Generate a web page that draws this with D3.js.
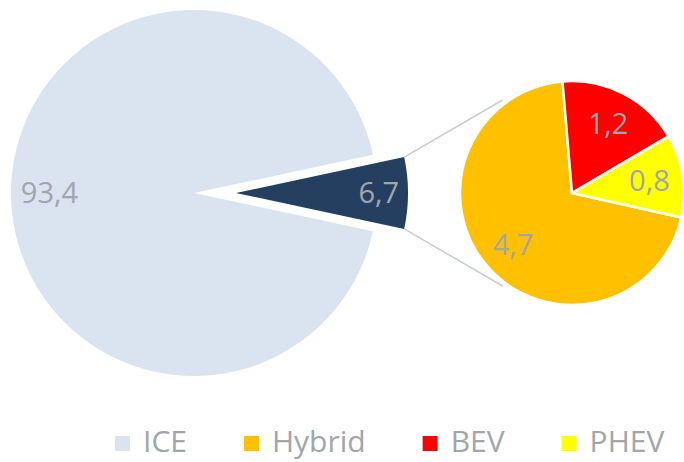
<!DOCTYPE html>
<html lang="en">

<head>
    <meta charset="UTF-8">
    <script src="https://d3js.org/d3.v7.min.js"></script>
    <title>pie of pie</title>
    <style>
        body { margin: 0; background: #fff; }
        text { font-family: "Open Sans", sans-serif; }
    </style>
</head>

<body>
    <div id="chart"></div>
    <script>
        // Data
        const mainLabels = ["ICE", "Other"];
        const mainValues = [93.4, 6.7];
        const subLabels = ["Hybrid", "BEV", "PHEV"];
        const subValues = [4.7, 1.2, 0.8];
        const legendLabels = ["ICE", "Hybrid", "BEV", "PHEV"];

        const colors = {
            ICE: "#dae3f0",
            Other: "#243f60",
            Hybrid: "#ffc000",
            BEV: "#ff0000",
            PHEV: "#ffff00"
        };

        const formatValue = v => d3.format(".1f")(v).replace(".", ",");

        // Dimensions
        const width = 684;
        const height = 462;
        const textColor = "#a0a6ac";

        const svg = d3.select("#chart")
            .append("svg")
            .attr("width", width)
            .attr("height", height);

        // Main pie
        const mainCx = 194, mainCy = 193, mainR = 183;
        const explode = 42, explodedR = 172;
        const mainTotal = d3.sum(mainValues);
        const otherHalf = Math.PI * mainValues[1] / mainTotal;

        const mainPie = d3.pie()
            .sort(null)
            .startAngle(Math.PI / 2 + otherHalf)
            .endAngle(Math.PI / 2 + otherHalf + 2 * Math.PI);

        const mainData = mainPie(mainValues).map((d, i) => ({ ...d, label: mainLabels[i] }));

        const mainG = svg.append("g")
            .attr("transform", `translate(${mainCx},${mainCy})`);

        const arcMain = d3.arc().innerRadius(0).outerRadius(mainR);
        const arcExploded = d3.arc().innerRadius(0).outerRadius(explodedR);

        const midAngle = d => (d.startAngle + d.endAngle) / 2;
        const offsetOf = d => d.label === "Other"
            ? [explode * Math.sin(midAngle(d)), -explode * Math.cos(midAngle(d))]
            : [0, 0];

        mainG.selectAll("path")
            .data(mainData)
            .join("path")
            .attr("transform", d => `translate(${offsetOf(d)})`)
            .attr("fill", d => colors[d.label])
            .attr("d", d => d.label === "Other" ? arcExploded(d) : arcMain(d));

        mainG.selectAll("text")
            .data(mainData)
            .join("text")
            .attr("x", d => {
                const [ox] = offsetOf(d);
                const r = d.label === "Other" ? explodedR * 0.83 : mainR * 0.79;
                return ox + r * Math.sin(midAngle(d));
            })
            .attr("y", d => {
                const [, oy] = offsetOf(d);
                const r = d.label === "Other" ? explodedR * 0.83 : mainR * 0.79;
                return oy - r * Math.cos(midAngle(d));
            })
            .attr("dy", "0.35em")
            .attr("text-anchor", "middle")
            .attr("font-size", 29)
            .attr("fill", textColor)
            .text(d => formatValue(d.value));

        // Secondary pie
        const subCx = 572, subCy = 193, subR = 112;
        const subStart = 102.6 * Math.PI / 180;

        const subPie = d3.pie()
            .sort(null)
            .startAngle(subStart)
            .endAngle(subStart + 2 * Math.PI);

        const subData = subPie(subValues).map((d, i) => ({ ...d, label: subLabels[i] }));

        // Connector lines (upper corner -> upper tangent point, lower -> lower)
        const other = mainData[1];
        const apex = offsetOf(other);
        const connAngles = [other.startAngle, other.endAngle];
        const targetAngles = [-36.7 * Math.PI / 180, 216.7 * Math.PI / 180];
        const lineR = subR + 4;

        svg.append("g")
            .selectAll("line")
            .data(connAngles)
            .join("line")
            .attr("x1", a => mainCx + apex[0] + explodedR * Math.sin(a))
            .attr("y1", a => mainCy + apex[1] - explodedR * Math.cos(a))
            .attr("x2", (a, i) => subCx + lineR * Math.sin(targetAngles[i]))
            .attr("y2", (a, i) => subCy - lineR * Math.cos(targetAngles[i]))
            .attr("stroke", "#c9cdd1")
            .attr("stroke-width", 1.5);

        const subG = svg.append("g")
            .attr("transform", `translate(${subCx},${subCy})`);

        const arcSub = d3.arc().innerRadius(0).outerRadius(subR);

        subG.selectAll("path")
            .data(subData)
            .join("path")
            .attr("fill", d => colors[d.label])
            .attr("stroke", "#fff")
            .attr("stroke-width", 2.5)
            .attr("stroke-linejoin", "round")
            .attr("d", arcSub);

        subG.selectAll("text")
            .data(subData)
            .join("text")
            .attr("x", d => subR * 0.7 * Math.sin(midAngle(d)))
            .attr("y", d => -subR * 0.7 * Math.cos(midAngle(d)))
            .attr("dy", "0.35em")
            .attr("text-anchor", "middle")
            .attr("font-size", 29)
            .attr("fill", textColor)
            .text(d => formatValue(d.value));

        // Legend
        const legend = svg.append("g")
            .attr("transform", "translate(115,436)");

        let lx = 0;
        legendLabels.forEach(name => {
            const item = legend.append("g").attr("transform", `translate(${lx},0)`);
            item.append("rect")
                .attr("width", 15)
                .attr("height", 15)
                .attr("fill", colors[name]);
            const t = item.append("text")
                .attr("x", 28)
                .attr("y", 16)
                .attr("font-size", 30)
                .attr("fill", textColor)
                .text(name);
            lx += 28 + t.node().getComputedTextLength() + 57;
        });
    </script>
</body>

</html>
